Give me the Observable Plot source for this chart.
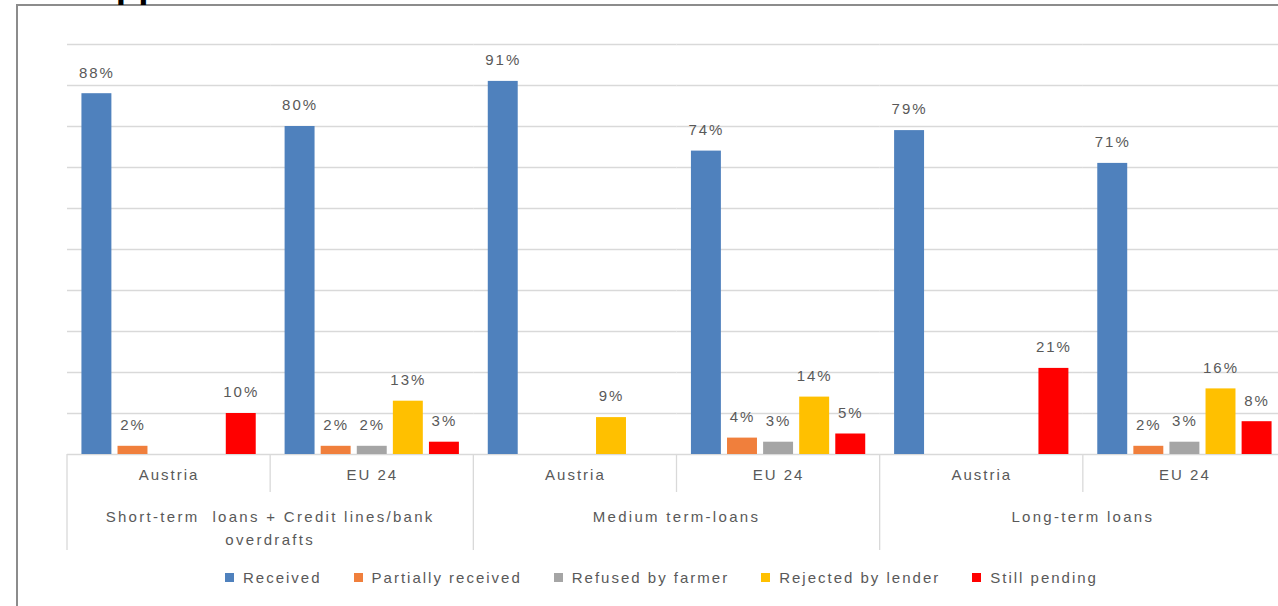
<!DOCTYPE html>
<html>
<head>
<meta charset="utf-8">
<script src="https://cdn.jsdelivr.net/npm/d3@7"></script>
<script src="https://cdn.jsdelivr.net/npm/@observablehq/plot@0.6"></script>
<style>
  html, body { margin: 0; padding: 0; background: #fff; width: 1278px; height: 606px; overflow: hidden; }
  #title { position: absolute; left: 0; top: 0; overflow: visible; }
  #box { position: absolute; left: 16px; top: 4px; width: 1400px; height: 700px; border: 2px solid #8c8c8c; background: #fff; }
  #chart { position: absolute; left: 0; top: 0; }
  #chart svg text { letter-spacing: 2px; }
  #chart svg text.wide { letter-spacing: 2.3px; }
  #legend { position: absolute; left: 225px; top: 566px; font: 15px "Liberation Sans", Arial, sans-serif; color: #595959; letter-spacing: 2px; display: flex; }
  #legend .item { display: flex; align-items: center; margin-right: 32px; height: 22px; }
  #legend .sw { width: 9px; height: 9px; margin-right: 9px; }
</style>
</head>
<body>
<div id="box"></div>
<svg id="title" width="400" height="10"><text x="89" y="-3" font-family="Liberation Sans, Arial, sans-serif" font-weight="bold" font-size="37" fill="#000">Applications</text></svg>
<div id="chart"></div>
<div id="legend"></div>
<script>
// Loan types, each split into Austria vs EU 24
const groupLines = [
  ["Short-term  loans + Credit lines/bank", "overdrafts"],
  ["Medium term-loans"],
  ["Long-term loans"]
];
const regions = ["Austria", "EU 24"];
const series = ["Received", "Partially received", "Refused by farmer", "Rejected by lender", "Still pending"];
const colors = ["#4f81bd", "#f07f3c", "#a5a5a5", "#ffc000", "#ff0000"];

// Share of applications (%), order: Short AT, Short EU, Medium AT, Medium EU, Long AT, Long EU
const received  = [88, 80, 91, 74, 79, 71];
const partially = [2, 2, 0, 4, 0, 2];
const refused   = [0, 2, 0, 3, 0, 3];
const rejected  = [0, 13, 9, 14, 0, 16];
const pending   = [10, 3, 0, 5, 21, 8];
const yTicks = [0, 10, 20, 30, 40, 50, 60, 70, 80, 90, 100];

const seriesValues = [received, partially, refused, rejected, pending];
const keys = d3.range(groupLines.length * regions.length);
const rows = [];
keys.forEach(k => {
  series.forEach((s, si) => {
    const v = seriesValues[si][k];
    if (v > 0) rows.push({key: k, series: s, value: v});
  });
});

const font = "Liberation Sans, Arial, sans-serif";
const ink = "#595959";
const gridColor = "#d9d9d9";

const plot = Plot.plot({
  width: 1300,
  height: 570,
  marginLeft: 67,
  marginRight: 14,
  marginTop: 44,
  marginBottom: 116,
  style: {background: "none", maxWidth: "none", overflow: "visible", fontFamily: font},
  fx: {domain: keys, padding: 0, round: false},
  x: {domain: series, paddingInner: 0.17, paddingOuter: 0.4, round: false, axis: null},
  y: {domain: [0, 100], axis: null},
  color: {domain: series, range: colors},
  marks: [
    Plot.ruleY(yTicks, {stroke: gridColor, strokeWidth: 1.3}),
    Plot.barY(rows, {fx: "key", x: "series", y: "value", fill: "series"}),
    Plot.text(rows, {fx: "key", x: "series", y: "value", text: d => d.value + "%",
      dy: -21, fill: ink, fontSize: 15}),
    Plot.axisFx({anchor: "bottom", tickSize: 0, tickPadding: 0, dy: 15,
      tickFormat: k => regions[k % regions.length], fontSize: 15, fill: ink, label: null})
  ]
});
document.getElementById("chart").appendChild(plot);

// Category table under the bars: separators and loan-type labels
const fx = plot.scale("fx");
const y = plot.scale("y");
const y0 = y.apply(0);
const bw = fx.bandwidth;
const svg = d3.select(plot);
const table = svg.append("g");
keys.concat([keys.length]).forEach(k => {
  const x = k < keys.length ? fx.apply(k) : fx.apply(k - 1) + bw;
  const major = k % regions.length === 0;
  table.append("line")
    .attr("x1", x).attr("x2", x)
    .attr("y1", y0).attr("y2", y0 + (major ? 96 : 38))
    .attr("stroke", gridColor).attr("stroke-width", 1.3);
});
groupLines.forEach((lines, g) => {
  const cx = fx.apply(g * regions.length) + bw * regions.length / 2;
  lines.forEach((line, li) => {
    table.append("text")
      .attr("class", "wide")
      .attr("x", cx).attr("y", y0 + 62 + li * 23)
      .attr("text-anchor", "middle").attr("dominant-baseline", "central")
      .attr("font-family", font).attr("font-size", 15).attr("fill", ink)
      .text(line);
  });
});

// Legend
const legend = d3.select("#legend");
series.forEach((s, i) => {
  const item = legend.append("div").attr("class", "item");
  item.append("div").attr("class", "sw").style("background", colors[i]);
  item.append("span").text(s);
});
</script>
</body>
</html>
